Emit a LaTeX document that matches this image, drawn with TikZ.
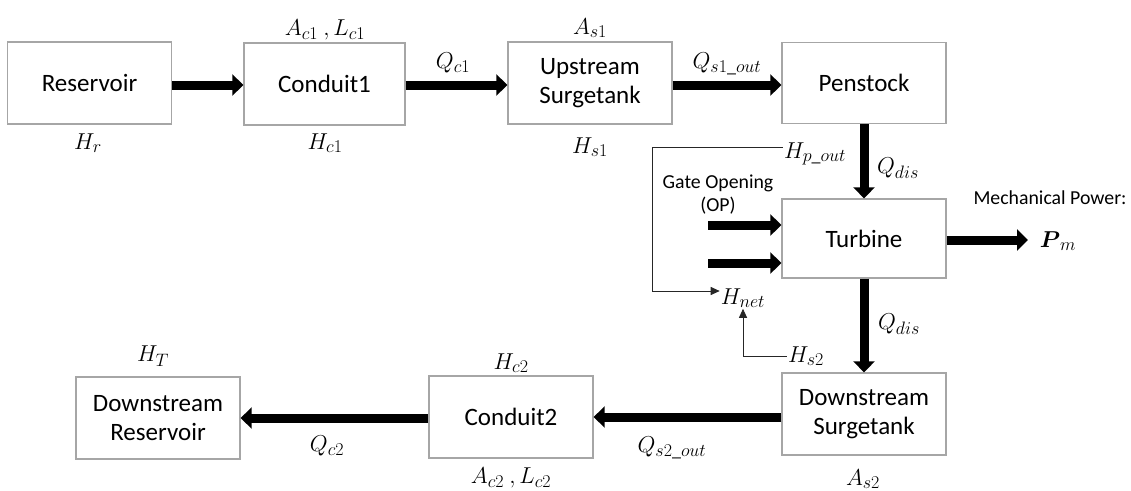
\RequirePackage{fix-cm}
\documentclass[tikz,border=0pt]{standalone}
\usepackage{amsmath}
\usepackage{fontspec}
\setmainfont{Carlito}
\DeclareMathSizes{23}{23}{18}{14}
\usetikzlibrary{arrows.meta}
\begin{document}
\begin{tikzpicture}[x=1pt,y=-1pt,
  blk/.style={draw=black!35,line width=1.3pt,minimum width=164pt,minimum height=82pt,inner sep=0pt,align=center,font=\fontsize{25}{29}\selectfont},
  lbl/.style={inner sep=1pt,font=\fontsize{23}{27}\selectfont},
  small/.style={inner sep=1pt,align=center,font=\fontsize{19.8}{23}\selectfont},
  big/.style={line width=9pt,-{Triangle[length=11pt,width=21pt]}},
  fb/.style={draw=black!85,line width=0.9pt,-{Triangle[length=9pt,width=8pt]}}]
\useasboundingbox (0,0) rectangle (1131,490);
% boxes
\node[blk] (res) at (89.5,83) {Reservoir};
\node[blk,minimum width=161pt] (c1) at (324.5,84) {Conduit1};
\node[blk] (us) at (590,83) {Upstream\\Surgetank};
\node[blk,minimum height=81pt] (pen) at (864,83) {Penstock};
\node[blk,minimum height=79pt] (tur) at (864,238.5) {Turbine};
\node[blk] (ds) at (864,414) {Downstream\\Surgetank};
\node[blk] (c2) at (511,417) {Conduit2};
\node[blk] (dr) at (158,418) {Downstream\\Reservoir};
% labels
\node[lbl] (lac1) at (325,30) {$A_{c1}\ ,L_{c1}$};
\node[lbl] (lhr) at (88,143) {$H_r$};
\node[lbl] (lhc1) at (325,143) {$H_{c1}$};
\node[lbl] (lqc1) at (453,63) {$Q_{c1}$};
\node[lbl] (las1) at (590,28) {$A_{s1}$};
\node[lbl] (lqs1) at (727,64) {$Q_{s1\_out}$};
\node[lbl] (lhs1) at (590,147) {$H_{s1}$};
\node[lbl] (hp) at (815,154) {$H_{p\_out}$};
\node[lbl] (lqd1) at (898,168) {$Q_{dis}$};
\node[lbl] (lqd2) at (899,324) {$Q_{dis}$};
\node[small] (gate) at (718,195) {Gate Opening\\(OP)};
\node[small] (mech) at (1050,198) {Mechanical Power:};
\node[lbl] (pm) at (1058,241) {$\boldsymbol{P}_m$};
\node[lbl] (hnet) at (743,298) {$H_{net}$};
\node[lbl] (hs2) at (806,356) {$H_{s2}$};
\node[lbl] (las2) at (863,479) {$A_{s2}$};
\node[lbl] (lht) at (153,356) {$H_T$};
\node[lbl] (lhc2) at (511,363) {$H_{c2}$};
\node[lbl] (lqc2) at (327,446) {$Q_{c2}$};
\node[lbl] (lqs2) at (672,448) {$Q_{s2\_out}$};
\node[lbl] (lac2) at (511,478) {$A_{c2}\ ,L_{c2}$};
% coordinates
\coordinate (g1) at (708,225);
\coordinate (g2) at (708,263);
\coordinate (pmend) at (1028,240);
\coordinate (k1) at (652,147);
\coordinate (k2) at (652,291);
% thick arrows
\draw[big] (res.east |- 0,85) -- (c1.west |- 0,85);
\draw[big] (c1.east |- 0,85) -- (us.west |- 0,85);
\draw[big] (us.east |- 0,85) -- (pen.west |- 0,85);
\draw[big] (pen.south) -- (tur.north);
\draw[big] (tur.south) -- (ds.north);
\draw[big] (tur.east |- pmend) -- (pmend);
\draw[big] (g1) -- (tur.west |- g1);
\draw[big] (g2) -- (tur.west |- g2);
\draw[big] (ds.west |- c2.east) -- (c2.east);
\draw[big] (c2.west |- dr.east) -- (dr.east);
% thin feedback lines
\draw[fb] (hp.west |- k1) -- (k1) -- (k2) -- (hnet.west |- k2);
\draw[fb] (hs2.west) -| (hnet.south);
\end{tikzpicture}
\end{document}
